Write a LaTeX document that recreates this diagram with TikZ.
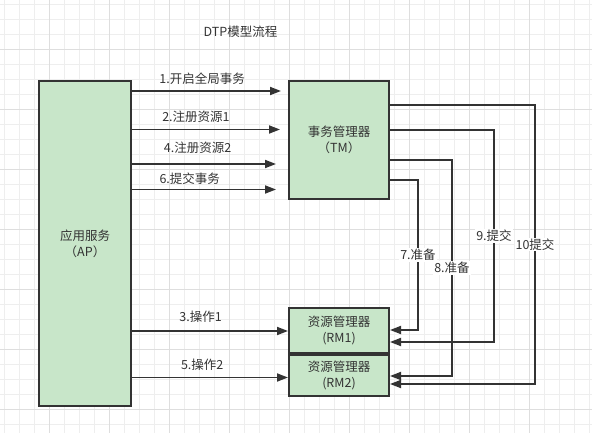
\documentclass[tikz,border=0pt]{standalone}
\usepackage{fontspec}
\setmainfont{Noto Sans CJK SC}
\usepackage{color}
\usepackage{tikz}
\usetikzlibrary{arrows.meta}
\definecolor{gridminor}{RGB}{238,238,238}
\definecolor{gridmajor}{RGB}{222,222,222}
\definecolor{boxgreen}{RGB}{200,230,201}
\definecolor{linegray}{RGB}{51,51,51}

\begin{document}
\begin{tikzpicture}[x=1pt,y=-1pt,
    font=\fontsize{12.5}{16}\selectfont,
    box/.style={draw=linegray,line width=2pt,fill=boxgreen,text=linegray,align=center,inner sep=0pt},
    arr/.style={draw=linegray,line width=1.8pt,-{Triangle[length=11pt,width=8pt]}},
    lbl/.style={text=linegray,inner sep=0pt},
    vlbl/.style={text=linegray,fill=white,inner sep=1pt}]
    \useasboundingbox (0,0) rectangle (592,433);

    % draw grid
    \foreach \i in {0,...,39}
      \draw[gridminor,line width=1pt] ({4.3+15*\i},0) -- ({4.3+15*\i},433);
    \foreach \i in {0,...,28}
      \draw[gridminor,line width=1pt] (0,{4.3+15*\i}) -- (592,{4.3+15*\i});
    \foreach \i in {0,...,8}
      \draw[gridmajor,line width=1pt] ({49.3+60*\i},0) -- ({49.3+60*\i},433);
    \foreach \i in {0,...,6}
      \draw[gridmajor,line width=1pt] (0,{49.3+60*\i}) -- (592,{49.3+60*\i});

    % draw title
    \node[lbl] (title) at (240.5,31.7) {DTP模型流程};

    % draw boxes
    \node[box,minimum width=92pt,minimum height=325pt] (ap) at (85,243.5) {应用服务\\（AP）};
    \node[box,minimum width=100pt,minimum height=118pt] (tm) at (339,140) {事务管理器\\（TM）};
    \node[box,minimum width=100pt,minimum height=45pt] (rm1) at (339,330.5) {资源管理器\\(RM1)};
    \node[box,minimum width=100pt,minimum height=41pt] (rm2) at (339,375.5) {资源管理器\\(RM2)};

    % draw arrows from AP
    \draw[arr,shorten >=7pt] (ap.east |- 0,91) -- (tm.west |- 0,91) node[lbl,above=5.7pt,pos=0.45] (l1) {1.开启全局事务};
    \draw[arr,shorten >=8pt] (ap.east |- 0,129.5) -- (tm.west |- 0,129.5) node[lbl,above=6.3pt,pos=0.41] (l2) {2.注册资源1};
    \draw[arr,shorten >=12pt] (ap.east |- 0,164) -- (tm.west |- 0,164) node[lbl,above=9.7pt,pos=0.42] (l4) {4.注册资源2};
    \draw[arr,shorten >=12pt] (ap.east |- 0,189.5) -- (tm.west |- 0,189.5) node[lbl,above=4pt,pos=0.37] (l6) {6.提交事务};
    \draw[arr] (ap.east |- 0,331) -- (rm1.west |- 0,331) node[lbl,above=8pt,pos=0.44] (l3) {3.操作1};
    \draw[arr] (ap.east |- 0,377.5) -- (rm2.west |- 0,377.5) node[lbl,above=6pt,pos=0.45] (l5) {5.操作2};

    % draw arrows from TM
    \draw[arr] (tm.east |- 0,180) -- (418,180) -- node[vlbl] (l7) {7.准备} (418,330) -- (rm1.east |- 0,330);
    \draw[arr] (tm.east |- 0,160) -- (452,160) -- node[vlbl] (l8) {8.准备} (452,376) -- (rm2.east |- 0,376);
    \draw[arr] (tm.east |- 0,130) -- (494,130) -- node[vlbl] (l9) {9.提交} (494,342) -- (rm1.east |- 0,342);
    \draw[arr] (tm.east |- 0,105) -- (535,105) -- node[vlbl] (l10) {10提交} (535,384) -- (rm2.east |- 0,384);
\end{tikzpicture}
\end{document}
